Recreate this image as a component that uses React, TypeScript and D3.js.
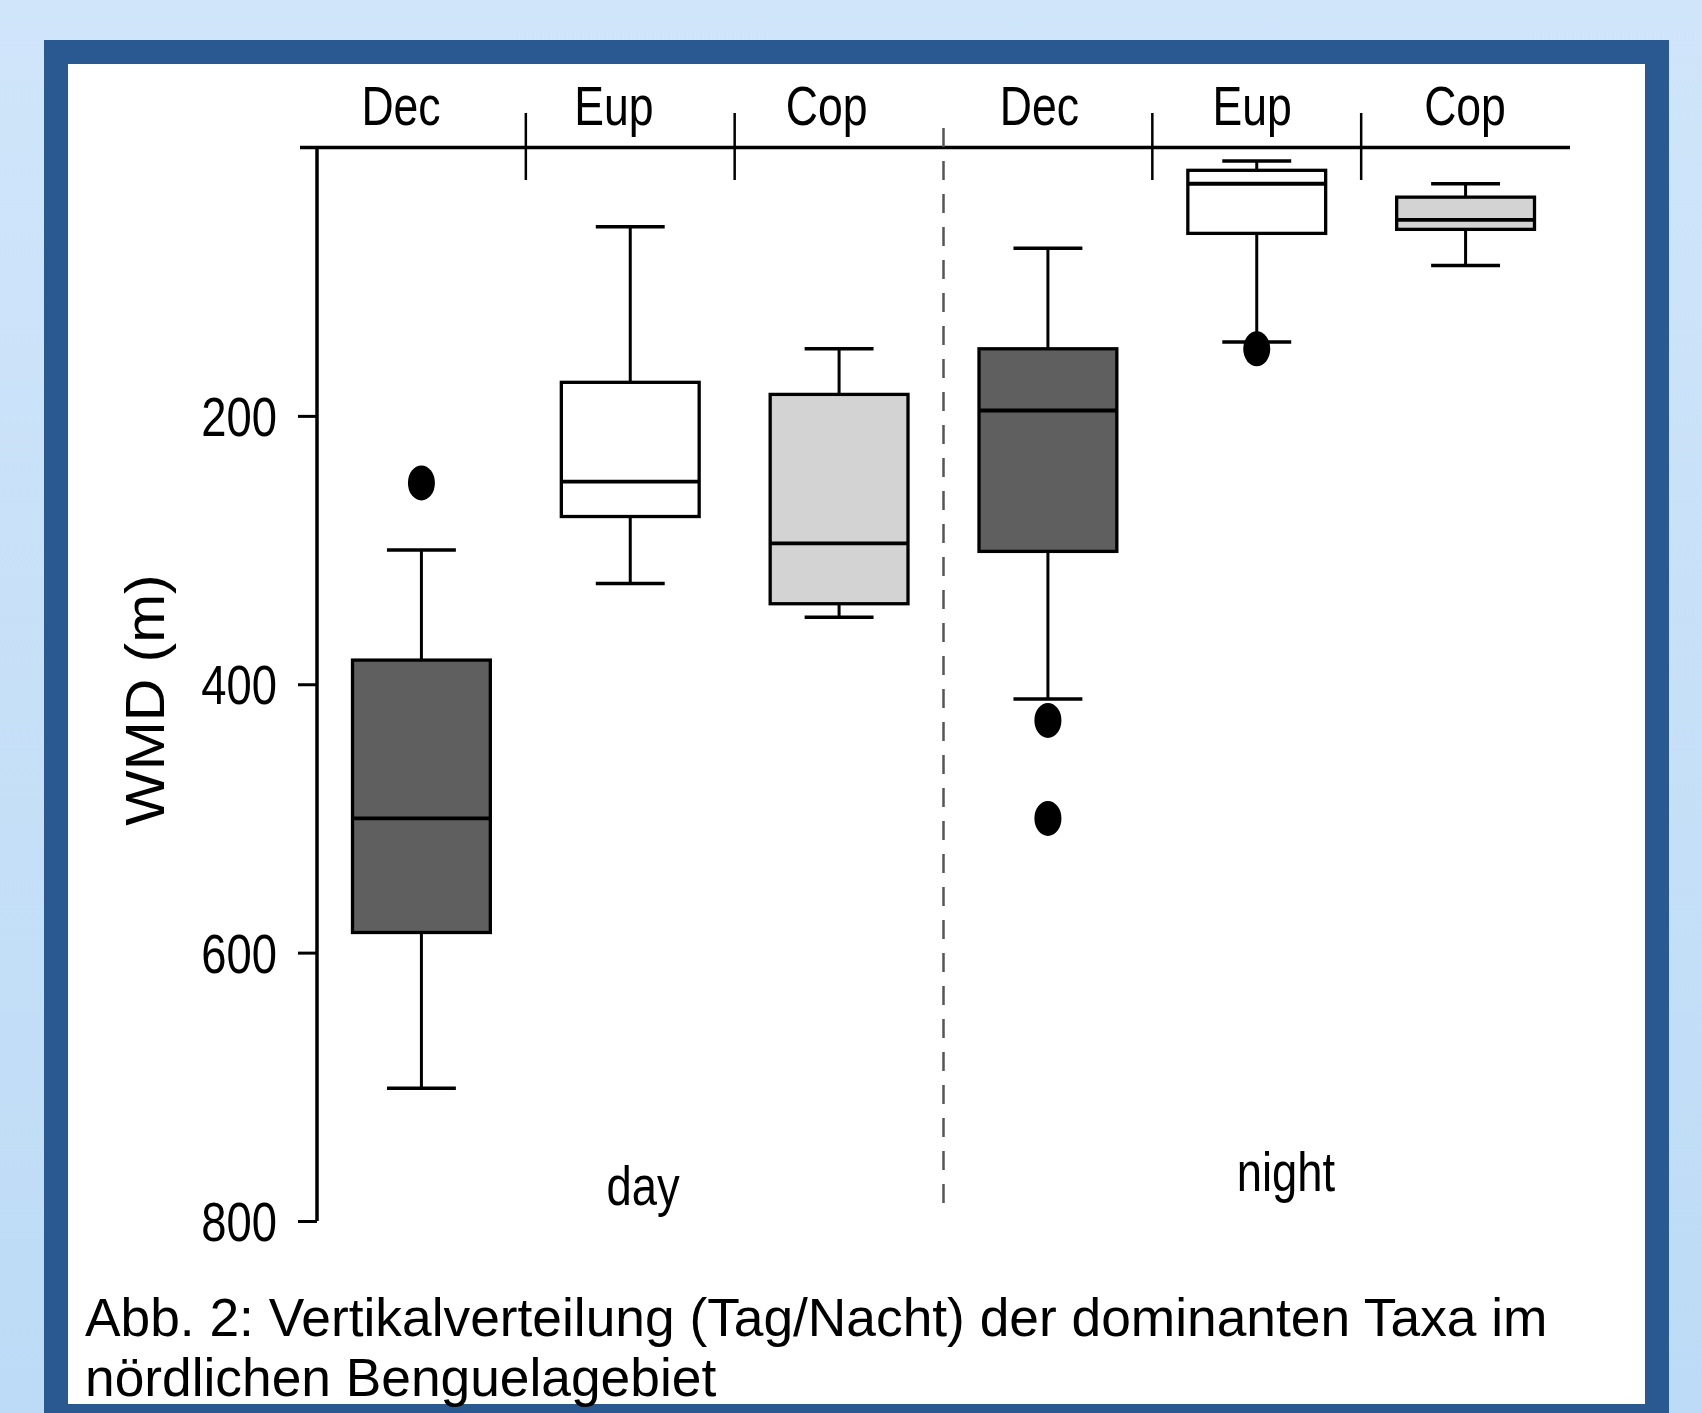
import React, { useEffect, useRef } from 'react';
import * as d3 from 'd3';

// categories
const taxa = ['Dec', 'Eup', 'Cop'];
const periods = ['day', 'night'];
const taxonFill = ['#5f5f5f', '#ffffff', '#d3d3d3'];

// weighted mean depth (m)
const dayLower = [300, 59, 150];
const dayQ1 = [382, 175, 184];
const dayMedian = [500, 249, 295];
const dayQ3 = [585, 275, 340];
const dayUpper = [701, 325, 350];
const dayOutliers = [[250], [], []];

const nightLower = [75, 10, 27];
const nightQ1 = [150, 17, 37];
const nightMedian = [196, 27, 54];
const nightQ3 = [301, 64, 61];
const nightUpper = [411, 145, 88];
const nightOutliers = [[427, 500], [150], []];

const yTicks = [200, 400, 600, 800];
const yLabel = 'WMD (m)';
const captionLines = [
  'Abb. 2: Vertikalverteilung (Tag/Nacht) der dominanten Taxa im',
  'nördlichen Benguelagebiet',
];

const W = 1702;
const H = 1413;
const font = '"Liberation Sans", Arial, Helvetica, sans-serif';
const NARROW = 0.81; // the plot text is a condensed face

const App = () => {
  const ref = useRef(null);

  useEffect(() => {
    const svg = d3.select(ref.current);
    svg.selectAll('*').remove();

    // condensed text: squeeze a regular face horizontally about its anchor
    const narrowText = (parent, x, y, txt, size, anchor = 'middle') =>
      parent
        .append('text')
        .attr('transform', `translate(${x},${y}) scale(${NARROW},1)`)
        .attr('text-anchor', anchor)
        .attr('font-family', font)
        .attr('font-size', size)
        .text(txt);

    // frame
    const defs = svg.append('defs');
    const grad = defs
      .append('linearGradient')
      .attr('id', 'bg')
      .attr('x1', 0)
      .attr('y1', 0)
      .attr('x2', 0)
      .attr('y2', 1);
    grad.append('stop').attr('offset', '0%').attr('stop-color', '#d0e5fa');
    grad.append('stop').attr('offset', '100%').attr('stop-color', '#bddbf6');

    svg.append('rect').attr('width', W).attr('height', H).attr('fill', 'url(#bg)');
    svg.append('rect').attr('x', 44).attr('y', 40).attr('width', 1625).attr('height', 1400).attr('fill', '#2a5890');
    svg.append('rect').attr('x', 68).attr('y', 64).attr('width', 1577).attr('height', 1340).attr('fill', '#ffffff');

    const boxes = [];
    periods.forEach((p, pi) => {
      taxa.forEach((t, ti) => {
        const day = pi === 0;
        boxes.push({
          key: `${p}-${t}`,
          taxon: ti,
          lower: (day ? dayLower : nightLower)[ti],
          q1: (day ? dayQ1 : nightQ1)[ti],
          median: (day ? dayMedian : nightMedian)[ti],
          q3: (day ? dayQ3 : nightQ3)[ti],
          upper: (day ? dayUpper : nightUpper)[ti],
          outliers: (day ? dayOutliers : nightOutliers)[ti],
        });
      });
    });

    const x = d3
      .scaleBand()
      .domain(boxes.map((d) => d.key))
      .range([317, 1570])
      .paddingInner(0.34)
      .paddingOuter(0.17);
    const y = d3.scaleLinear().domain([0, 800]).range([147.5, 1221]);
    const bw = x.bandwidth();
    const cx = (d) => x(d.key) + bw / 2;
    const half = x.step() / 2;

    // labels along the top are spaced a little wider than the boxes
    const xLab = d3
      .scalePoint()
      .domain(boxes.map((d) => d.key))
      .range([401, 1465]);

    // top axis
    svg.append('line').attr('x1', 300).attr('x2', 1570).attr('y1', y(0)).attr('y2', y(0))
      .attr('stroke', '#000').attr('stroke-width', 3.5);

    boxes.forEach((d, i) => {
      if (i === 0) return;
      const sx = cx(d) - half;
      if (i === 3) {
        svg.append('line').attr('x1', sx).attr('x2', sx).attr('y1', 128).attr('y2', 1203)
          .attr('stroke', '#555').attr('stroke-width', 2.5).attr('stroke-dasharray', '19 14');
      } else {
        svg.append('line').attr('x1', sx).attr('x2', sx).attr('y1', 113).attr('y2', 180)
          .attr('stroke', '#000').attr('stroke-width', 2.5);
      }
    });

    boxes.forEach((d) => narrowText(svg, xLab(d.key), 125, taxa[d.taxon], 55));

    // y axis
    const yAxis = svg
      .append('g')
      .attr('transform', 'translate(317,0)')
      .call(d3.axisLeft(y).tickValues(yTicks).tickSize(19).tickFormat(d3.format('d')));
    yAxis.select('.domain').remove();
    yAxis.selectAll('.tick line').attr('stroke', '#000').attr('stroke-width', 3);
    yAxis
      .selectAll('.tick text')
      .attr('x', 0)
      .attr('dy', '0.35em')
      .attr('transform', `translate(-40,0) scale(${NARROW},1)`)
      .attr('text-anchor', 'end')
      .attr('font-family', font)
      .attr('font-size', 56)
      .attr('fill', '#000');
    svg.append('line').attr('x1', 317).attr('x2', 317).attr('y1', y(0)).attr('y2', y(800))
      .attr('stroke', '#000').attr('stroke-width', 3.5);

    svg.append('text')
      .attr('transform', 'translate(164,700) rotate(-90) scale(1.05,1)')
      .attr('text-anchor', 'middle')
      .attr('font-family', font)
      .attr('font-size', 56)
      .text(yLabel);

    // boxes
    const g = svg.selectAll('.box').data(boxes).enter().append('g').attr('class', 'box');
    g.append('line').attr('x1', cx).attr('x2', cx).attr('y1', (d) => y(d.lower)).attr('y2', (d) => y(d.q1))
      .attr('stroke', '#000').attr('stroke-width', 3);
    g.append('line').attr('x1', cx).attr('x2', cx).attr('y1', (d) => y(d.q3)).attr('y2', (d) => y(d.upper))
      .attr('stroke', '#000').attr('stroke-width', 3);
    g.append('line').attr('x1', (d) => cx(d) - bw / 4).attr('x2', (d) => cx(d) + bw / 4)
      .attr('y1', (d) => y(d.lower)).attr('y2', (d) => y(d.lower)).attr('stroke', '#000').attr('stroke-width', 3.5);
    g.append('line').attr('x1', (d) => cx(d) - bw / 4).attr('x2', (d) => cx(d) + bw / 4)
      .attr('y1', (d) => y(d.upper)).attr('y2', (d) => y(d.upper)).attr('stroke', '#000').attr('stroke-width', 3.5);
    g.append('rect')
      .attr('x', (d) => x(d.key))
      .attr('y', (d) => y(d.q1))
      .attr('width', bw)
      .attr('height', (d) => y(d.q3) - y(d.q1))
      .attr('fill', (d) => taxonFill[d.taxon])
      .attr('stroke', '#000')
      .attr('stroke-width', 3.3);
    g.append('line').attr('x1', (d) => x(d.key)).attr('x2', (d) => x(d.key) + bw)
      .attr('y1', (d) => y(d.median)).attr('y2', (d) => y(d.median)).attr('stroke', '#000').attr('stroke-width', 3.8);
    g.each(function (d) {
      d3.select(this)
        .selectAll('ellipse')
        .data(d.outliers)
        .enter()
        .append('ellipse')
        .attr('cx', cx(d))
        .attr('cy', (v) => y(v))
        .attr('rx', 13.5)
        .attr('ry', 17.5)
        .attr('fill', '#000');
    });

    // period labels
    narrowText(svg, 643, 1205, periods[0], 56);
    narrowText(svg, 1286, 1191, periods[1], 56);

    // caption
    svg
      .selectAll('.cap')
      .data(captionLines)
      .enter()
      .append('text')
      .attr('x', 85)
      .attr('y', (d, i) => 1336 + i * 60)
      .attr('font-family', font)
      .attr('font-size', 53.3)
      .text((d) => d);

    return () => {
      d3.select(ref.current).selectAll('*').remove();
    };
  }, []);

  return (
    <svg
      ref={ref}
      width={W}
      height={H}
      style={{ position: 'absolute', left: 0, top: 0, display: 'block' }}
    />
  );
};

export default App;
